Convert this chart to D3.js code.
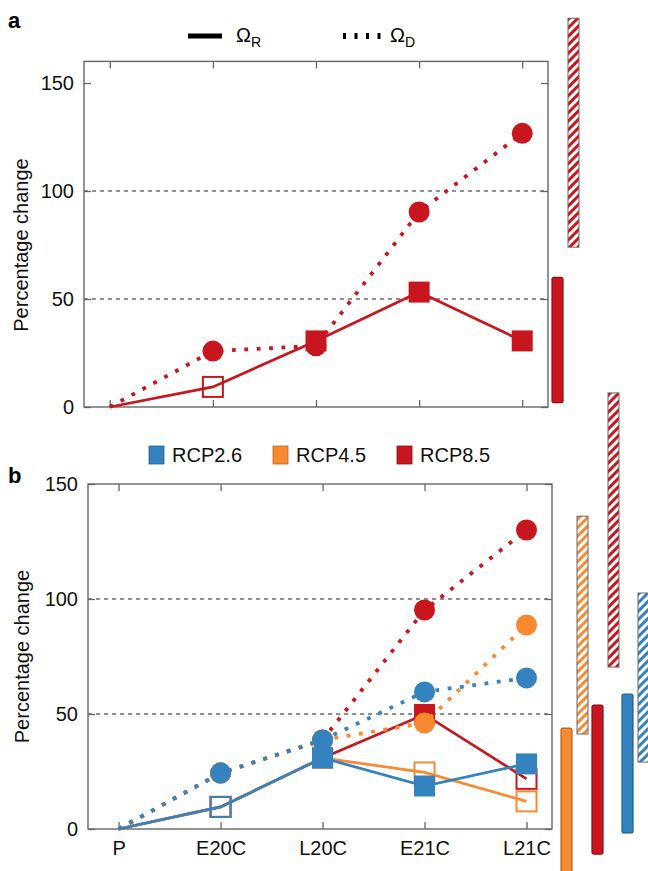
<!DOCTYPE html>
<html>
<head>
<meta charset="utf-8">
<script src="https://cdn.jsdelivr.net/npm/d3@7"></script>
<style>
  body { margin: 0; background: #fff; }
  svg { display: block; font-family: "Liberation Sans", Arial, sans-serif; }
</style>
</head>
<body>
<svg id="chart" width="648" height="871"></svg>
<script>
// Periods on the x axis
var periods = ['P', 'E20C', 'L20C', 'E21C', 'L21C'];
var yTicks = [0, 50, 100, 150];

// Panel a: RCP8.5 only
var aRuntime = [0, 9.3, 30.6, 53.2, 30.6];      // solid, squares
var aRuntimeSig = [false, false, true, true, true];
var aDuration = [0, 25.9, 28.3, 90.3, 126.7];   // dotted, circles
var aRangeR = [2, 60];
var aRangeD = [74, 180];

// Panel b: the three scenarios
var scenarios = ['RCP2.6', 'RCP4.5', 'RCP8.5'];
var bRuntime = {
  'RCP8.5': [0, 9.6, 30.9, 49.8, 21.8],
  'RCP4.5': [0, 9.6, 30.9, 24.6, 12.0],
  'RCP2.6': [0, 9.6, 30.9, 18.7, 28.3]
};
var bRuntimeSig = {
  'RCP8.5': [false, false, true, true, false],
  'RCP4.5': [false, false, true, false, false],
  'RCP2.6': [false, false, true, true, true]
};
var bDuration = {
  'RCP8.5': [0, 24.3, 38.7, 95.2, 130.0],
  'RCP4.5': [0, 24.3, 38.7, 46.1, 88.7],
  'RCP2.6': [0, 24.3, 38.7, 59.6, 65.7]
};
// ranges shown as bars at the right: [low, high]
var bRangeR = { 'RCP4.5': [-25, 43.9], 'RCP8.5': [-10.9, 53.9], 'RCP2.6': [-1.7, 58.7] };
var bRangeD = { 'RCP4.5': [41.3, 136], 'RCP8.5': [70.4, 189.6], 'RCP2.6': [29.1, 102.6] };

var colors = { 'RCP2.6': '#3482be', 'RCP4.5': '#f78a31', 'RCP8.5': '#c8161e' };
var strokeDark = { 'RCP2.6': '#1f5f8f', 'RCP4.5': '#b86520', 'RCP8.5': '#8a1015' };

var FONT = 20;

var svg = d3.select('#chart');
var defs = svg.append('defs');

// Stripe patterns for the hatched bars
scenarios.forEach(function(s) {
  var p = defs.append('pattern')
    .attr('id', 'hatch-' + s.replace('.', ''))
    .attr('patternUnits', 'userSpaceOnUse')
    .attr('width', 6).attr('height', 6)
    .attr('patternTransform', 'rotate(45)');
  p.append('rect').attr('width', 6).attr('height', 6).attr('fill', '#fff');
  p.append('line').attr('x1', 1.5).attr('x2', 1.5).attr('y1', 0).attr('y2', 6)
    .attr('stroke', colors[s]).attr('stroke-width', 3);
});

// Draws the frame, ticks and grid of one panel
function drawFrame(g, x, y, showLabels) {
  var x0 = x.range()[0], x1 = x.range()[1];
  var y0 = y.range()[0], y1 = y.range()[1];

  // dashed grid
  g.selectAll('.grid').data([50, 100]).enter().append('line')
    .attr('x1', x0).attr('x2', x1)
    .attr('y1', function(d) { return y(d); }).attr('y2', function(d) { return y(d); })
    .attr('stroke', '#222').attr('stroke-width', 1).attr('stroke-dasharray', '4 4');

  // left axis with labels, inward ticks
  var left = g.append('g').attr('transform', 'translate(' + x0 + ',0)')
    .call(d3.axisLeft(y).tickValues(yTicks).tickSize(-7).tickPadding(10));
  var right = g.append('g').attr('transform', 'translate(' + x1 + ',0)')
    .call(d3.axisRight(y).tickValues(yTicks).tickSize(-7).tickFormat(''));
  var bottom = g.append('g').attr('transform', 'translate(0,' + y0 + ')')
    .call(d3.axisBottom(x).tickValues(d3.range(periods.length)).tickSize(-7)
      .tickPadding(12).tickFormat(function(i) { return showLabels ? periods[i] : ''; }));
  var top = g.append('g').attr('transform', 'translate(0,' + y1 + ')')
    .call(d3.axisTop(x).tickValues(d3.range(periods.length)).tickSize(-7).tickFormat(''));

  [left, right, bottom, top].forEach(function(a) {
    a.select('.domain').remove();
    a.selectAll('line').attr('stroke', '#666').attr('stroke-width', 1.3);
    a.selectAll('text').attr('font-size', FONT).attr('fill', '#111')
      .attr('font-family', '"Liberation Sans", Arial, sans-serif');
  });

  g.append('rect')
    .attr('x', x0).attr('y', y1)
    .attr('width', x1 - x0).attr('height', y0 - y1)
    .attr('fill', 'none').attr('stroke', '#666').attr('stroke-width', 1.4);
}

function drawSeries(g, x, y, dur, run, sig, color) {
  var line = d3.line().x(function(d, i) { return x(i); }).y(function(d) { return y(d); });

  g.append('path').datum(dur).attr('d', line)
    .attr('fill', 'none').attr('stroke', color).attr('stroke-width', 3.8)
    .attr('stroke-dasharray', '3.8 8.6');
  g.selectAll(null).data(dur.slice(1)).enter().append('circle')
    .attr('cx', function(d, i) { return x(i + 1); })
    .attr('cy', function(d) { return y(d); })
    .attr('r', 10.5).attr('fill', color);

  g.append('path').datum(run).attr('d', line)
    .attr('fill', 'none').attr('stroke', color).attr('stroke-width', 2.7);
  g.selectAll(null).data(run.slice(1)).enter().append('rect')
    .each(function(d, i) {
      var filled = sig[i + 1];
      var s = filled ? 21 : 20;
      d3.select(this)
        .attr('x', x(i + 1) - s / 2).attr('y', y(d) - s / 2)
        .attr('width', s).attr('height', s)
        .attr('fill', filled ? color : 'none')
        .attr('stroke', filled ? 'none' : color)
        .attr('stroke-width', 2);
    });
}

function drawRangeBar(g, y, xPos, range, color, dark, hatched, patternId) {
  var w = 11;
  g.append('rect')
    .attr('x', xPos).attr('y', y(range[1]))
    .attr('width', w).attr('height', y(range[0]) - y(range[1]))
    .attr('rx', hatched ? 0 : 2)
    .attr('fill', hatched ? 'url(#' + patternId + ')' : color)
    .attr('stroke', hatched ? '#666' : dark)
    .attr('stroke-width', hatched ? 1 : 1.2);
}

// ---------- Panel a ----------
var xa = d3.scaleLinear().domain([-0.25, 4.25]).range([84, 548]);
var ya = d3.scaleLinear().domain([0, 160]).range([407, 61.4]);
var ga = svg.append('g');
drawFrame(ga, xa, ya, false);
drawSeries(ga, xa, ya, aDuration, aRuntime, aRuntimeSig, colors['RCP8.5']);
drawRangeBar(ga, ya, 552, aRangeR, colors['RCP8.5'], strokeDark['RCP8.5'], false);
drawRangeBar(ga, ya, 568, aRangeD, colors['RCP8.5'], strokeDark['RCP8.5'], true, 'hatch-RCP85');

svg.append('text').attr('x', 8).attr('y', 28).attr('font-size', 22)
  .attr('font-weight', 'bold').text('a');
svg.append('text')
  .attr('transform', 'translate(28,' + ya(75) + ') rotate(-90)')
  .attr('text-anchor', 'middle').attr('font-size', FONT).attr('fill', '#111')
  .text('Percentage change');

// top legend: line styles
var lg = svg.append('g');
lg.append('line').attr('x1', 188).attr('x2', 222).attr('y1', 36).attr('y2', 36)
  .attr('stroke', '#000').attr('stroke-width', 5);
var tR = lg.append('text').attr('x', 236).attr('y', 42).attr('font-size', FONT);
tR.append('tspan').text('\u03A9');
tR.append('tspan').attr('dy', 5).attr('font-size', 14).text('R');
lg.append('line').attr('x1', 343).attr('x2', 382).attr('y1', 36).attr('y2', 36)
  .attr('stroke', '#000').attr('stroke-width', 6).attr('stroke-dasharray', '3 8.5');
var tD = lg.append('text').attr('x', 390).attr('y', 42).attr('font-size', FONT);
tD.append('tspan').text('\u03A9');
tD.append('tspan').attr('dy', 5).attr('font-size', 14).text('D');

// ---------- Panel b ----------
var xb = d3.scaleLinear().domain([-0.3, 4.25]).range([88, 552]);
var yb = d3.scaleLinear().domain([0, 150]).range([829, 484]);
var gb = svg.append('g');
drawFrame(gb, xb, yb, true);
['RCP8.5', 'RCP4.5', 'RCP2.6'].forEach(function(s) {
  drawSeries(gb, xb, yb, bDuration[s], bRuntime[s], bRuntimeSig[s], colors[s]);
});

var barX = { 'RCP4.5': 561, 'RCP8.5': 592, 'RCP2.6': 622 };
['RCP4.5', 'RCP8.5', 'RCP2.6'].forEach(function(s) {
  drawRangeBar(gb, yb, barX[s], bRangeR[s], colors[s], strokeDark[s], false);
  drawRangeBar(gb, yb, barX[s] + 16, bRangeD[s], colors[s], strokeDark[s], true,
    'hatch-' + s.replace('.', ''));
});

svg.append('text').attr('x', 8).attr('y', 483).attr('font-size', 22)
  .attr('font-weight', 'bold').text('b');
svg.append('text')
  .attr('transform', 'translate(29,' + yb(75) + ') rotate(-90)')
  .attr('text-anchor', 'middle').attr('font-size', FONT).attr('fill', '#111')
  .text('Percentage change');

// scenario legend
var legX = { 'RCP2.6': 149, 'RCP4.5': 273, 'RCP8.5': 397 };
scenarios.forEach(function(s) {
  svg.append('rect').attr('x', legX[s]).attr('y', 446).attr('width', 15).attr('height', 18)
    .attr('fill', colors[s]).attr('stroke', strokeDark[s]).attr('stroke-width', 0.8);
  svg.append('text').attr('x', legX[s] + 23).attr('y', 462).attr('font-size', FONT)
    .attr('fill', '#111').text(s);
});
</script>
</body>
</html>
